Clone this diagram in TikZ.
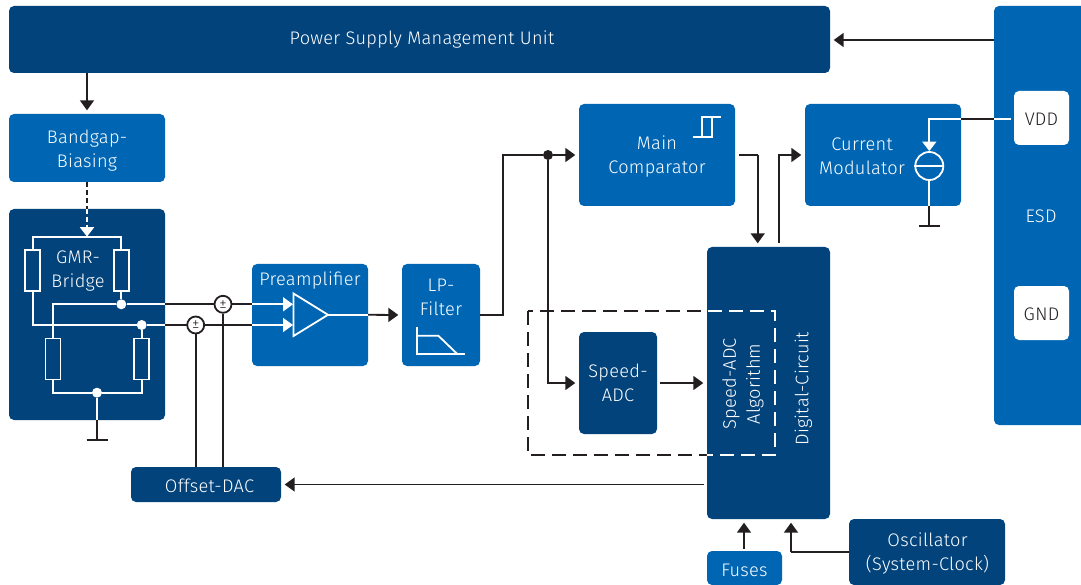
\documentclass[tikz,border=0pt]{standalone}
\usepackage{fontspec}
\setmainfont{Fira Sans}[UprightFont=* Light,LetterSpace=1.5]
\usetikzlibrary{arrows.meta,calc}
\definecolor{darkb}{HTML}{03437C}
\definecolor{midb}{HTML}{0066B3}
\definecolor{ink}{HTML}{231F20}
\tikzset{
  x=1pt,y=-1pt,
  boxa/.style={rounded corners=5pt,inner sep=0pt},
  darkbox/.style={boxa,fill=darkb},
  midbox/.style={boxa,fill=midb},
  whitebox/.style={boxa,fill=white},
  lbl/.style={inner sep=0pt,align=center,text=white,font=\fontsize{18.2}{24}\selectfont},
  klbl/.style={lbl,text=ink},
  wire/.style={draw=ink,line width=1.8pt},
  wwire/.style={draw=white,line width=1.8pt},
  arr/.style={wire,-{Triangle[length=10pt,width=14pt]},shorten >=3.5pt},
  warr/.style={wwire,-{Triangle[length=10pt,width=14pt]}},
  res/.style={draw=white,line width=1.8pt,fill=darkb,minimum width=15pt,minimum height=41pt,inner sep=0pt},
  dotw/.style={circle,fill=white,minimum size=10pt,inner sep=0pt},
  dotk/.style={circle,fill=ink,minimum size=10pt,inner sep=0pt},
  pm/.style={circle,draw=ink,line width=1.8pt,fill=white,minimum size=17pt,inner sep=0pt,text=ink,font=\fontsize{15}{15}\selectfont},
  gndbar/.style={draw=ink,line width=2pt},
  dashbox/.style={line width=1.8pt,dash pattern=on 14pt off 7pt},
}
\begin{document}
\begin{tikzpicture}
\useasboundingbox (0,0) rectangle (1081,585);
% Boxes
\node[darkbox,minimum width=821pt,minimum height=67pt] (psmu) at (419.5,39.5) {};
\node[lbl] (t1a) at (422,39.5) {Power Supply Management Unit};
\node[midbox,minimum width=156pt,minimum height=68pt] (bandgap) at (87,148) {};
\node[lbl] (t2a) at (87,151) {Bandgap-\\Biasing};
\node[darkbox,minimum width=156pt,minimum height=211pt] (gmr) at (87,314.5) {};
\node[midbox,minimum width=116pt,minimum height=102pt] (pre) at (310,315) {};
\node[lbl] (pretext) at (310,281) {Preamplifier};
\node[midbox,minimum width=78pt,minimum height=102pt] (lp) at (441,315) {};
\node[lbl] (lptext) at (441,297) {LP-\\Filter};
\node[midbox,minimum width=156pt,minimum height=102pt] (main) at (657,155) {};
\node[lbl] (maintext) at (657,156.5) {Main\\Comparator};
\node[midbox,minimum width=156pt,minimum height=102pt] (cur) at (883,155) {};
\node[lbl] (curtext) at (862,156) {Current\\Modulator};
\node[fill=midb,inner sep=0pt,rounded corners=5pt,minimum width=107pt,minimum height=419pt] (esd) at (1047.5,215.5) {};
\node[lbl] (esdtext) at (1041,216) {ESD};
\node[whitebox,minimum width=55pt,minimum height=54pt] (vdd) at (1041.5,118) {};
\node[klbl] (vddtext) at (1041.5,119) {VDD};
\node[whitebox,minimum width=55pt,minimum height=54pt] (gnd) at (1041.5,313) {};
\node[klbl] (gndtext) at (1041.5,314.5) {GND};
\node[darkbox,minimum width=123pt,minimum height=272pt] (dig) at (768.5,383) {};
\node[darkbox,minimum width=78pt,minimum height=102pt] (speed) at (618,383) {};
\node[lbl] (speedtext) at (618,382.5) {Speed-\\ADC};
\node[darkbox,minimum width=150pt,minimum height=35pt] (dac) at (206,484.5) {};
\node[lbl] (dactext) at (209.5,485.5) {Offset-DAC};
\node[midbox,minimum width=75pt,minimum height=34pt] (fuses) at (744.5,568) {};
\node[lbl] (fusestext) at (744.5,570.5) {Fuses};
\node[darkbox,minimum width=156pt,minimum height=66pt] (osc) at (927,552) {};
\node[lbl] (osctext) at (927.5,553) {Oscillator\\(System-Clock)};
\node[lbl,rotate=90] (alg) at (743,384) {Speed-ADC\\Algorithm};
\node[lbl,rotate=90] (digtext) at (803.5,389) {Digital-Circuit};

% Dashed region
\coordinate (dtl) at (528,311);
\coordinate (dbr) at (775,455);
\draw[dashbox,draw=ink] (dtl) rectangle (dbr);
\begin{scope}
\clip[rounded corners=5pt] (dig.north west) rectangle (dig.south east);
\draw[dashbox,draw=white] (dtl) rectangle (dbr);
\end{scope}

% Top connectors
\coordinate (esdout) at (esd.west |- 0,40);
\coordinate (psmuin) at (psmu.east |- 0,40);
\draw[arr] (esdout) -- (psmuin);
\coordinate (psb) at (87,73);
\draw[arr] (psb) -- (bandgap.north);

% Dashed bias
\draw[wire,dash pattern=on 5pt off 3pt] (bandgap.south) -- (gmr.north);
\coordinate (railtop) at (87,236.7);
\draw[wwire,dash pattern=on 5pt off 3pt,-{Triangle[length=9.5pt,width=14pt]}] (gmr.north) -- (railtop);

% Bridge
\node[res] (r1) at (32.7,270.5) {};
\node[res] (r2) at (121.3,270.5) {};
\node[res] (r3) at (53,359) {};
\node[res] (r4) at (141.7,359) {};
\node[dotw] (ja) at (121.3,304.3) {};
\node[dotw] (jb) at (141.7,325) {};
\node[dotw] (jc) at (97,392.7) {};
\node[lbl] (gmrtext) at (78,271) {GMR-\\Bridge};
\draw[wwire] (r1.north) |- (railtop) -| (r2.north);
\draw[wwire] (r2.south) -- (ja);
\draw[wwire] (r1.south) |- (jb);
\draw[wwire] (r4.north) -- (jb);
\draw[wwire] (r3.north) |- (ja);
\draw[wwire] (r3.south) |- (jc) -| (r4.south);

% Ground of bridge
\coordinate (gb1) at (gmr.south -| jc);
\coordinate (gb2) at ($(gb1)+(0,20)$);
\draw[wwire] (jc) -- (gb1);
\draw[wire] (gb1) -- (gb2);
\draw[gndbar] ($(gb2)+(-10.5,0)$) -- ($(gb2)+(10.5,0)$);

% Signal lines to the preamp
\coordinate (o1) at (gmr.east |- ja);
\coordinate (o2) at (gmr.east |- jb);
\coordinate (i1) at (pre.west |- ja);
\coordinate (i2) at (pre.west |- jb);
\coordinate (t1) at (293,304.3);
\coordinate (t2) at (293,325);
\draw[wwire] (ja) -- (o1);
\draw[wwire] (jb) -- (o2);
\draw[wire] (o1) -- (i1);
\draw[wire] (o2) -- (i2);
\draw[warr] (i1) -- (t1);
\draw[warr] (i2) -- (t2);
\node[pm] (pm1) at (223,304.3) {±};
\node[pm] (pm2) at (195.7,325) {±};
\draw[wire] (pm1.south) -- (pm1.south |- dac.north);
\draw[wire] (pm2.south) -- (pm2.south |- dac.north);

% Amplifier
\coordinate (ta) at (293.5,293.5);
\coordinate (tb) at (293.5,336);
\coordinate (tc) at (328,314.8);
\draw[wwire,line join=miter] (ta) -- (tb) -- (tc) -- cycle;
\draw[wwire] (tc) -- (pre.east |- tc);
\draw[arr] (pre.east |- tc) -- (lp.west);

% LP symbol
\draw[wwire,line join=miter] (416.7,327) -- (416.7,354) -- (465,354);
\draw[wwire,line join=miter] (416.7,335.7) -- (438.3,335.7) -- (457.3,354);

% LP output
\coordinate (bend) at (503.3,155);
\node[dotk] (split) at (548,155) {};
\draw[wire] (lp.east) -| (bend) -- (split);
\draw[arr] (split) -- (main.west);
\draw[arr] (split) |- (speed.west);

% Speed ADC to algorithm
\coordinate (sout) at ($(speed.east)+(3,0)$);
\draw[arr] (sout) -- (dig.west |- speed.east);

% Comparator symbol
\draw[wwire,line join=miter] (692.7,137.3) -- (712.3,137.3) -- (712.3,117.3);
\draw[wwire,line join=miter] (702.3,137.3) -- (702.3,117.3) -- (721,117.3);

% Comparator to digital
\coordinate (cout) at (739,155);
\coordinate (cdown) at (757.7,155);
\draw[wire] (cout) -- (cdown);
\draw[arr] (cdown) -- (cdown |- dig.north);

% Digital to modulator
\coordinate (dup) at (779,243);
\draw[arr] (dup) |- (cur.west);

% Digital to DAC
\coordinate (dout) at (704,484.5);
\draw[arr] (dout) -- (dac.east);

% Fuses and oscillator
\coordinate (fin) at (744,549);
\draw[arr] (fin) -- (fin |- dig.south);
\coordinate (oin) at (791,552);
\draw[wire] (osc.west) -- (oin);
\draw[arr] (oin) -- (oin |- dig.south);

% Current source
\node[circle,draw=white,line width=1.8pt,minimum size=28pt,inner sep=0pt] (src) at (929.3,166) {};
\draw[wwire] (src.west) -- (src.east);
\coordinate (vleft) at (1011,119.3);
\coordinate (vesd) at (esd.west |- vleft);
\coordinate (vcur) at (cur.east |- vleft);
\coordinate (vk) at (src.north |- vleft);
\draw[wwire] (vleft) -- (vesd);
\draw[wire] (vesd) -- (vcur);
\draw[wwire,-{Triangle[length=9.5pt,width=14pt]}] (vcur) -- (vk) -- (src.north);
\coordinate (g1) at (src.south |- cur.south);
\coordinate (g2) at ($(g1)+(0,20)$);
\draw[wwire] (src.south) -- (g1);
\draw[wire] (g1) -- (g2);
\draw[gndbar] ($(g2)+(-10.5,0)$) -- ($(g2)+(10.5,0)$);
\end{tikzpicture}
\end{document}
